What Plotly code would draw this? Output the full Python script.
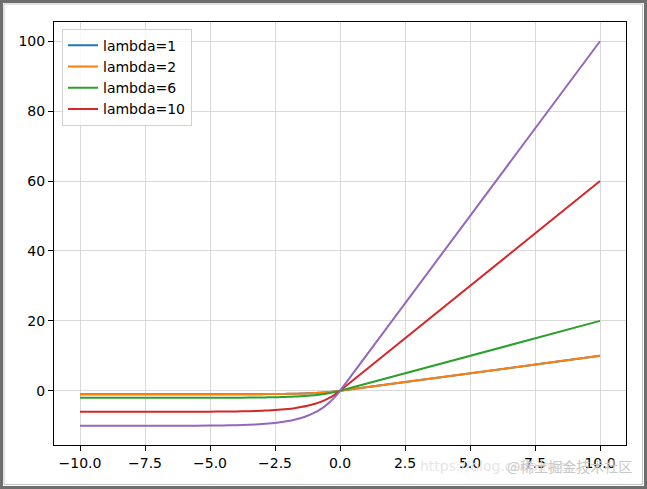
import plotly.graph_objects as go

# ── data ──────────────────────────────────────────────────────────────────────
x_vals = [-10, -8, -6, -5, -4.5, -4, -3.5, -3, -2.75, -2.5, -2.25, -2, -1.75,
          -1.5, -1.25, -1, -0.9, -0.8, -0.7, -0.6, -0.5, -0.4, -0.3, -0.2,
          -0.1, 0, 10]

y_lambda1 = [-1.0, -1.0, -1.0, -0.99, -0.99, -0.98, -0.97, -0.95, -0.94, -0.92,
             -0.89, -0.86, -0.83, -0.78, -0.71, -0.63, -0.59, -0.55, -0.5,
             -0.45, -0.39, -0.33, -0.26, -0.18, -0.1, 0, 10]
y_lambda2 = [-1.0, -1.0, -1.0, -0.99, -0.99, -0.98, -0.97, -0.95, -0.94, -0.92,
             -0.89, -0.86, -0.83, -0.78, -0.71, -0.63, -0.59, -0.55, -0.5,
             -0.45, -0.39, -0.33, -0.26, -0.18, -0.1, 0, 10]
y_lambda6 = [-2.0, -2.0, -2.0, -1.99, -1.98, -1.96, -1.94, -1.9, -1.87, -1.84,
             -1.79, -1.73, -1.65, -1.55, -1.43, -1.26, -1.19, -1.1, -1.01,
             -0.9, -0.79, -0.66, -0.52, -0.36, -0.19, 0, 20]
y_lambda10 = [-6.0, -6.0, -5.99, -5.96, -5.93, -5.89, -5.82, -5.7, -5.62, -5.51,
              -5.37, -5.19, -4.96, -4.66, -4.28, -3.79, -3.56, -3.3, -3.02,
              -2.71, -2.36, -1.98, -1.56, -1.09, -0.57, 0, 60]
y_extra = [-10.0, -10.0, -9.98, -9.93, -9.89, -9.82, -9.7, -9.5, -9.36, -9.18,
           -8.95, -8.65, -8.26, -7.77, -7.13, -6.32, -5.93, -5.51, -5.03,
           -4.51, -3.94, -3.3, -2.59, -1.81, -0.95, 0, 100]

series = [
    ("lambda=1", y_lambda1, "#1f77b4", True),
    ("lambda=2", y_lambda2, "#ff7f0e", True),
    ("lambda=6", y_lambda6, "#2ca02c", True),
    ("lambda=10", y_lambda10, "#d62728", True),
    ("", y_extra, "#9467bd", False),
]

x_ticks = [-10, -7.5, -5, -2.5, 0, 2.5, 5, 7.5, 10]
y_ticks = [0, 20, 40, 60, 80, 100]

W, H = 647, 489
L, R, T, B = 54, 21, 22, 44
pw, ph = W - L - R, H - T - B


def px(X):
    return (X - L) / pw


def py(Y):
    return (H - B - Y) / ph


fig = go.Figure()
for name, ys, colour, show in series:
    fig.add_trace(go.Scatter(
        x=x_vals, y=ys, mode="lines", name=name,
        line=dict(color=colour, width=2, shape="spline", smoothing=0.6),
        showlegend=show,
    ))

axis_common = dict(
    showline=True, linecolor="black", linewidth=1, mirror=True,
    ticks="outside", ticklen=5, tickcolor="black", tickwidth=1,
    showgrid=True, gridcolor="#d9d9d9", gridwidth=1,
    zeroline=False,
    tickfont=dict(family="DejaVu Sans", size=14, color="black"),
)

fig.update_layout(
    width=W, height=H,
    margin=dict(l=L, r=R, t=T, b=B),
    paper_bgcolor="white", plot_bgcolor="white",
    xaxis=dict(range=[-11, 11], tickvals=x_ticks, tickformat=".1f", **axis_common),
    yaxis=dict(range=[-15.5, 105.5], tickvals=y_ticks, **axis_common),
    legend=dict(
        x=0.014, y=0.984, xanchor="left", yanchor="top",
        bgcolor="rgba(255,255,255,0.8)", bordercolor="#d0d0d0", borderwidth=1,
        font=dict(family="DejaVu Sans", size=14, color="black"),
        tracegroupgap=0,
    ),
    shapes=[
        dict(type="rect", xref="paper", yref="paper",
             x0=px(1.5), x1=px(W - 1.5), y0=py(H - 1.5), y1=py(1.5),
             line=dict(color="#6e6e6e", width=3)),
        dict(type="rect", xref="paper", yref="paper",
             x0=px(4), x1=px(W - 4.5), y0=py(H - 4.5), y1=py(4),
             line=dict(color="#c4c4c4", width=1)),
    ],
    annotations=[
        dict(text="https://blog.csdn.net/...", xref="paper", yref="paper",
             x=px(418), y=py(466), xanchor="left", yanchor="middle", showarrow=False,
             font=dict(family="DejaVu Sans", size=14, color="#e6e6e6")),
        dict(text="@稀土掘金技术社区", xref="paper", yref="paper",
             x=px(634), y=py(466), xanchor="right", yanchor="middle", showarrow=False,
             font=dict(family="Noto Sans CJK SC", size=14, color="#c8c8c8")),
    ],
)

# the page body has a default 8px margin; drop it so the figure sits at 0,0
fig.write_html(
    "out.html",
    config={"displayModeBar": False},
    post_script="document.body.style.margin='0';",
)
